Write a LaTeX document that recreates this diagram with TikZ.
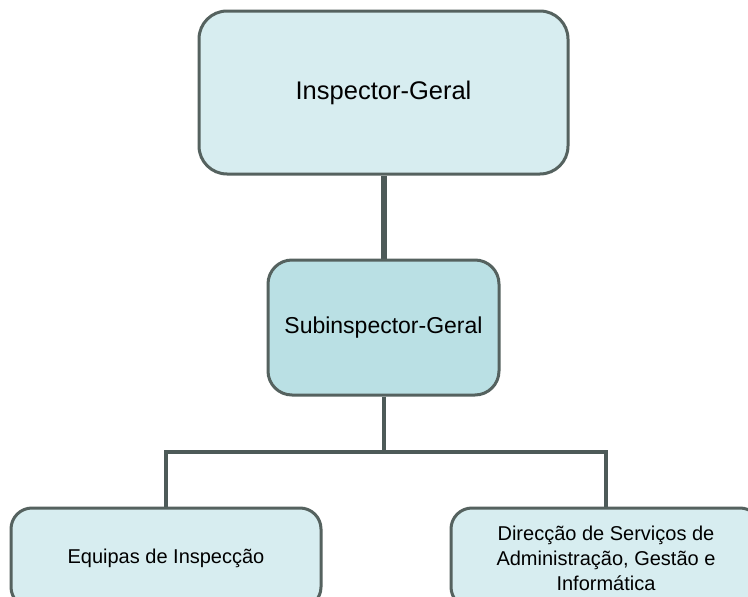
\documentclass[tikz,border=0pt]{standalone}
\usepackage{fontspec}
\setmainfont{Liberation Sans}
\usetikzlibrary{backgrounds}
\definecolor{lightfill}{HTML}{D7EDF0}
\definecolor{midfill}{HTML}{BAE0E4}
\definecolor{edge}{HTML}{55625F}
\definecolor{wire}{HTML}{4D5A58}
\tikzset{
  box/.style={draw=edge, line width=3pt, rounded corners=#1, align=center, inner sep=0pt, text=black},
  wirethick/.style={draw=wire, line width=6pt},
  wirethin/.style={draw=wire, line width=4pt, line join=miter}
}
\begin{document}
\begin{tikzpicture}[x=1pt,y=-1pt]
\useasboundingbox (0,0) rectangle (748,597);
\clip (0,0) rectangle (748,597);
\node[box=28pt, fill=lightfill, minimum width=369pt, minimum height=163pt, font=\fontsize{25.5}{30}\selectfont] (top) at (383.5,92.5) {Inspector-Geral};
\node[box=24pt, fill=midfill, minimum width=231pt, minimum height=135pt, font=\fontsize{23}{27}\selectfont] (mid) at (383.5,327.5) {Subinspector-Geral};
\node[box=21pt, fill=lightfill, minimum width=310pt, minimum height=100pt, font=\fontsize{20}{25}\selectfont] (left) at (166,558) {Equipas de Inspecção};
\node[box=21pt, fill=lightfill, minimum width=310pt, minimum height=100pt, font=\fontsize{20}{25}\selectfont] (right) at (606,558) {Direcção de Serviços de\\Administração, Gestão e\\Informática};
\coordinate (hl) at (166,452);
\coordinate (hr) at (606,452);
\coordinate (hm) at (383.5,452);
\begin{scope}[on background layer]
\fill[white] (0,0) rectangle (748,597);
\draw[wirethick] (top.south) -- (mid.north);
\draw[wirethin] (mid.south) -- (hm);
\draw[wirethin] (left.north) -- (hl) -- (hr) -- (right.north);
\end{scope}
\end{tikzpicture}
\end{document}
